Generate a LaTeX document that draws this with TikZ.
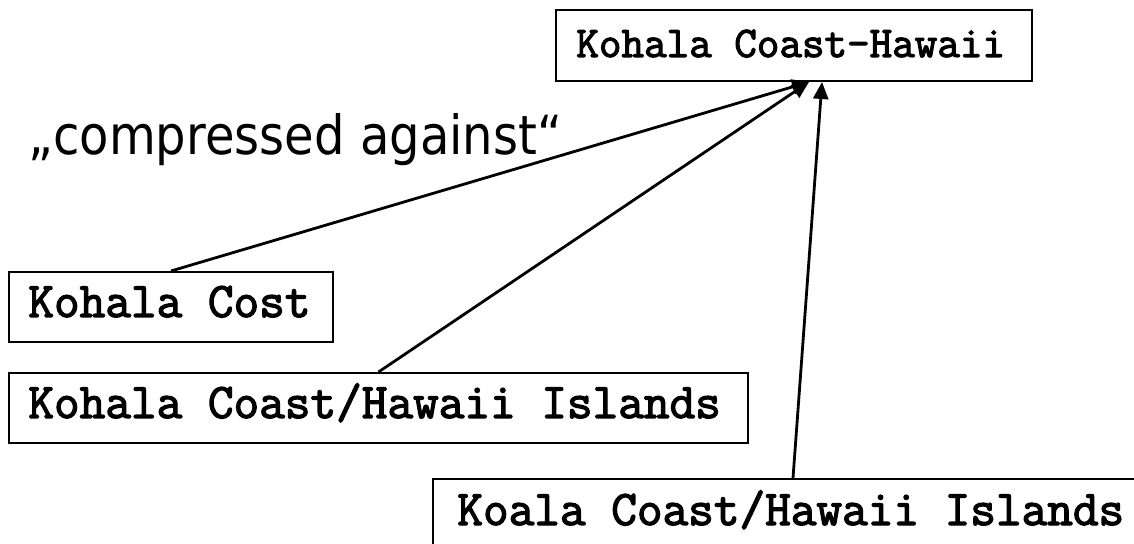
\documentclass[tikz,border=0pt]{standalone}
\usepackage{fontspec}
\newfontfamily\labelsans[FakeStretch=0.89]{DejaVu Sans}
\newfontfamily\typebold[FakeBold=2.6]{Latin Modern Mono}
\usetikzlibrary{arrows.meta,calc}
\newcommand{\monotop}{\typebold\fontsize{21.9}{26}\selectfont}
\newcommand{\monolow}{\typebold\fontsize{24.9}{28}\selectfont}
\begin{document}
\begin{tikzpicture}[x=0.5pt,y=-0.5pt,
  box/.style={draw, line width=1pt, inner sep=0pt, anchor=north west},
  lbl/.style={anchor=base west, inner sep=0pt, font=\monolow},
  link/.style={line width=1.4pt, -{Triangle[length=8.5pt,width=7.5pt]}}]
  \clip (0,0) rectangle (1134,544);

  % boxes
  \node[box, minimum width=238pt, minimum height=35.5pt] (top) at (555,9) {};
  \node[box, minimum width=162pt, minimum height=35pt] (cost) at (8,271) {};
  \node[box, minimum width=369.5pt, minimum height=35pt] (coast) at (8,372) {};
  \node[box, minimum width=360pt, minimum height=35pt] (koala) at (432,478) {};

  % box texts
  \node[lbl, font=\monotop] (toptxt) at (576,57) {Kohala Coast-Hawaii};
  \node[lbl] (costtxt) at (28,317) {Kohala Cost};
  \node[lbl] (coasttxt) at (28,418) {Kohala Coast/Hawaii Islands};
  \node[lbl] (koalatxt) at (457,525) {Koala Coast/Hawaii Islands};

  % caption
  \node[anchor=base west, inner sep=0pt, font=\labelsans\fontsize{27}{30}\selectfont] (cap) at (28,155) {„compressed against“};

  % arrow targets on the lower edge of the top box
  \coordinate (tipL) at ($(top.south)+(15,0)$);
  \coordinate (tipR) at ($(top.south)+(28,0)$);

  % connectors
  \draw[link] (cost.north) -- (tipL);
  \draw[link] (coast.north) -- (tipL);
  \draw[link] (koala.north) -- (tipR);
\end{tikzpicture}
\end{document}
